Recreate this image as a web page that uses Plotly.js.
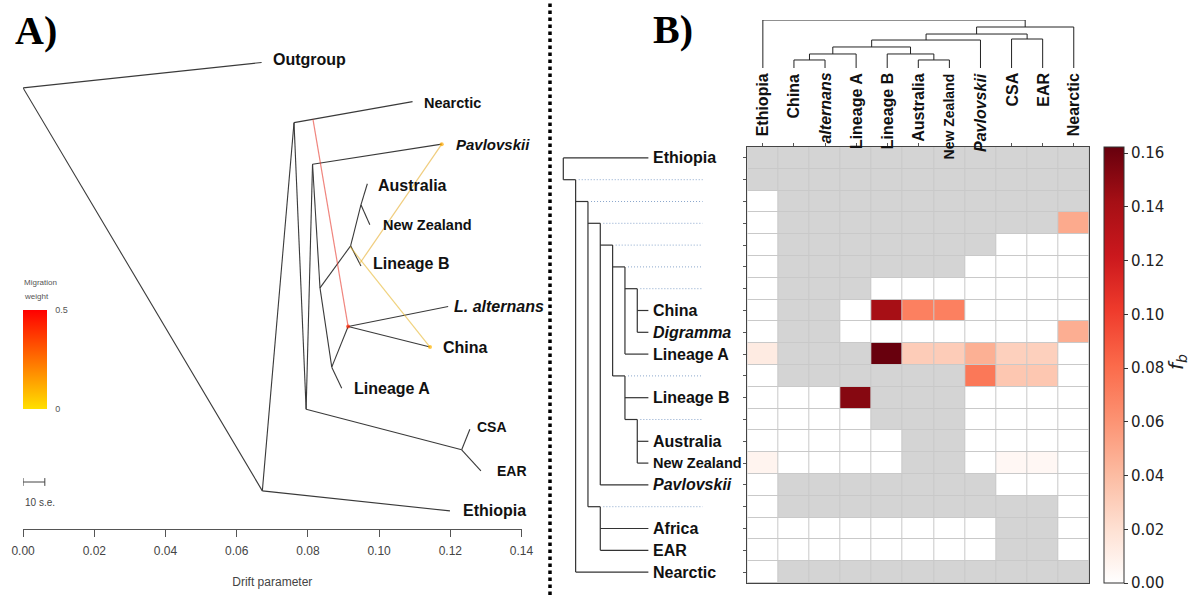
<!DOCTYPE html>
<html><head><meta charset="utf-8">
<script src="https://cdn.plot.ly/plotly-3.0.1.min.js"></script>
<style>html,body{margin:0;padding:0;background:#fff}#chart{width:1192px;height:595px}</style>
</head><body><div id="chart"></div>
<script>
// ================= Panel A : TreeMix tree =================
const nodeIds   = ['root','outgroup','ethN','ethiopia','n1','nearctic','n2','csaN','csa','ear','n3','pavlovskii','n4','n5','linB','ausN','australia','nz','n6','linA','n7','lalt','china'];
const nodeDrift = [0.0000,0.0670,0.0672,0.1199,0.0761,0.1094,0.0795,0.1232,0.1255,0.1286,0.0813,0.1176,0.0834,0.0920,0.0949,0.0949,0.0967,0.0974,0.0867,0.0895,0.0913,0.1194,0.1143];
const nodeVPos  = [0.902,0.954,0.078,0.037,0.831,0.874,0.245,0.162,0.204,0.119,0.746,0.787,0.493,0.579,0.538,0.663,0.706,0.622,0.331,0.288,0.414,0.455,0.372];
const edgeFrom  = ['root','root','ethN','ethN','n1','n1','n2','csaN','csaN','n2','n3','n3','n4','n5','n5','ausN','ausN','n4','n6','n6','n7','n7'];
const edgeTo    = ['outgroup','ethN','ethiopia','n1','nearctic','n2','csaN','csa','ear','n3','pavlovskii','n4','n5','linB','ausN','australia','nz','n6','linA','n7','lalt','china'];
const tipIds    = ['outgroup','nearctic','pavlovskii','australia','nz','linB','lalt','china','linA','csa','ear','ethiopia'];
const tipLabels = ['Outgroup','Nearctic','<i>Pavlovskii</i>','Australia','New Zealand','Lineage B','<i>L. alternans</i>','China','Lineage A','CSA','EAR','Ethiopia'];
// migration edges: source = point on the branch ending at migSrcChild, at fraction migSrcFrac
const migSrcChild = ['nearctic','linB','n5'];
const migSrcFrac  = [0.16, 0.88, 0.98];
const migDest     = ['n7','pavlovskii','china'];
const migWeight   = [0.42, 0.12, 0.10];
const seBar = 0.0061;           // 10 s.e. in drift units
const driftTicks = [0,0.02,0.04,0.06,0.08,0.10,0.12,0.14];

// ================= Panel B : f-branch heatmap =================
const colNames  = ['Ethiopia','China','<i>alternans</i>','Lineage A','Lineage B','Australia','New Zealand','<i>Pavlovskii</i>','CSA','EAR','Nearctic'];
const rowLabels = ['Ethiopia','','','','','','','China','<i>Digramma</i>','Lineage A','','Lineage B','','Australia','New Zealand','<i>Pavlovskii</i>','','Africa','EAR','Nearctic'];
const rowParent = [-1,-1,1,2,3,4,5,6,6,5,4,10,10,12,12,3,2,16,16,1];
const N = null;
const fbRows = [
 [N,N,N,N,N,N,N,N,N,N,N],
 [N,N,N,N,N,N,N,N,N,N,N],
 [0,N,N,N,N,N,N,N,N,N,N],
 [0,N,N,N,N,N,N,N,N,N,0.049],
 [0,N,N,N,N,N,N,N,0,0,0],
 [0,N,N,N,N,N,N,0,0,0,0],
 [0,N,N,N,0,0,0,0,0,0,0],
 [0,N,N,0,0.141,0.070,0.070,0,0,0,0],
 [0,N,N,0,0,0,0,0,0,0,0.047],
 [0.013,N,N,N,0.162,0.031,0.031,0.046,0.029,0.029,0],
 [0,N,N,N,N,N,N,0.074,0.034,0.034,0],
 [0,0,0,0.152,N,N,N,0,0,0,0],
 [0,0,0,0,N,N,N,0,0,0,0],
 [0,0,0,0,0,N,N,0,0,0,0],
 [0.007,0,0,0,0,N,N,0,0.005,0.005,0],
 [0,N,N,N,N,N,N,N,0,0,0],
 [0,N,N,N,N,N,N,N,N,N,0],
 [0,0,0,0,0,0,0,0,N,N,0],
 [0,0,0,0,0,0,0,0,N,N,0],
 [0,N,N,N,N,N,N,N,N,N,N]
];
// column dendrogram (scipy-like linkage; new cluster ids start at 11)
const linkLeft   = [1,5,11,4,13,8,15,17,18,0];
const linkRight  = [2,6,3,12,14,9,7,16,10,19];
const linkHeight = [0.167,0.167,0.292,0.292,0.438,0.604,0.583,0.708,0.854,1.0];
const fbTicks = [0,0.02,0.04,0.06,0.08,0.10,0.12,0.14,0.16];
const fbMax = 0.1623;

// ================= helpers =================
const W = 1192, H = 595;
const px = v => v / W, py = v => 1 - v / H;
const FONT = 'Liberation Sans, Arial, sans-serif';
const idx = {}; nodeIds.forEach((n,i)=>idx[n]=i);
const parentOf = {}; edgeTo.forEach((c,i)=>parentOf[c]=edgeFrom[i]);

const traces = [];
const annotations = [];
const shapes = [];

// tree edges
{
  const x=[], y=[];
  edgeFrom.forEach((f,i)=>{
    const a=idx[f], b=idx[edgeTo[i]];
    x.push(nodeDrift[a], nodeDrift[b], null);
    y.push(nodeVPos[a], nodeVPos[b], null);
  });
  traces.push({type:'scatter',mode:'lines',x,y,xaxis:'x',yaxis:'y',
    line:{color:'#3a3a3a',width:1.1},hoverinfo:'skip',showlegend:false});
}
// migration edges
function wColor(w){ // yellow -> red over 0..0.5
  const t=Math.min(1,w/0.5);
  const g=Math.round(200*(1-t)+20);
  return `rgb(230,${g},40)`;
}
const mx=[], my=[];
migSrcChild.forEach((c,i)=>{
  const p=parentOf[c], a=idx[p], b=idx[c], f=migSrcFrac[i];
  const sx=nodeDrift[a]+(nodeDrift[b]-nodeDrift[a])*f;
  const sy=nodeVPos[a]+(nodeVPos[b]-nodeVPos[a])*f;
  const d=idx[migDest[i]];
  traces.push({type:'scatter',mode:'lines',x:[sx,nodeDrift[d]],y:[sy,nodeVPos[d]],
    xaxis:'x',yaxis:'y',line:{color:wColor(migWeight[i]),width:1.2},opacity:0.6,
    hoverinfo:'skip',showlegend:false});
  mx.push(nodeDrift[d]); my.push(nodeVPos[d]);
});
traces.push({type:'scatter',mode:'markers',x:mx,y:my,xaxis:'x',yaxis:'y',hoverinfo:'skip',showlegend:false,
  marker:{size:4,color:migWeight,cmin:0,cmax:0.5,opacity:0.7,
    colorscale:[[0,'#ffe000'],[1,'#ff0000']],showscale:true,
    colorbar:{x:px(22.7),xanchor:'left',y:py(409),yanchor:'bottom',len:99/H,lenmode:'fraction',
      thickness:24,thicknessmode:'pixels',xpad:0,ypad:0,outlinewidth:0,
      tickvals:[0,0.5],ticktext:['0','0.5'],ticks:'outside',ticklen:7,tickcolor:'rgba(0,0,0,0)',
      tickfont:{family:FONT,size:9,color:'#555'}}}});
// scale bar
{
  const v=(529-482)/489, dv=0.008;
  traces.push({type:'scatter',mode:'lines',xaxis:'x',yaxis:'y',hoverinfo:'skip',showlegend:false,
    x:[0,seBar,null,0,0,null,seBar,seBar],y:[v,v,null,v-dv,v+dv,null,v-dv,v+dv],
    line:{color:'#444',width:1}});
  annotations.push({xref:'x',yref:'y',x:0,y:(529-502)/489,text:'10 s.e.',showarrow:false,
    xanchor:'left',yanchor:'middle',font:{family:FONT,size:10,color:'#444'}});
}
annotations.push({xref:'paper',yref:'paper',x:px(22),y:py(282),text:'Migration',showarrow:false,xanchor:'left',yanchor:'middle',font:{family:FONT,size:8,color:'#555'}});
annotations.push({xref:'paper',yref:'paper',x:px(22),y:py(296),text:'weight',showarrow:false,xanchor:'left',yanchor:'middle',font:{family:FONT,size:8,color:'#555'}});
// tip labels
const tipShift = {outgroup:[9,3],nearctic:[9,-1],pavlovskii:[12,0],australia:[9,-2],nz:[11,0],linB:[10,2],lalt:[4,0],china:[11,0],linA:[10,0],csa:[5,2],ear:[14,0],ethiopia:[11,0]};
const tipSize = {nearctic:14.5,nz:14.5,csa:14,ear:14,pavlovskii:15};
tipIds.forEach((t,i)=>{
  const k=idx[t];
  annotations.push({xref:'x',yref:'y',x:nodeDrift[k],y:nodeVPos[k],text:'<b>'+tipLabels[i]+'</b>',
    showarrow:false,xanchor:'left',yanchor:'middle',xshift:tipShift[t][0],yshift:tipShift[t][1],
    font:{family:FONT,size:tipSize[t]||16,color:'#111'}});
});

// ---- heatmap ----
const nR=rowLabels.length, nC=colNames.length;
const xs=[...Array(nC).keys()], ys=[...Array(nR).keys()];
const maskZ=fbRows.map(r=>r.map(v=>v===null?1:null));
shapes.push({type:'rect',xref:'x2 domain',yref:'y2 domain',x0:0,x1:1,y0:0,y1:1,fillcolor:'#c9c9c9',line:{width:0},layer:'below'});
traces.push({type:'heatmap',x:xs,y:ys,z:maskZ,xaxis:'x2',yaxis:'y2',zmin:0,zmax:1,
  colorscale:[[0,'#d4d4d4'],[1,'#d4d4d4']],showscale:false,xgap:1,ygap:1,hoverinfo:'skip'});
traces.push({type:'heatmap',x:xs,y:ys,z:fbRows,xaxis:'x2',yaxis:'y2',zmin:0,zmax:fbMax,xgap:1,ygap:1,
  hoverongaps:false,
  colorscale:[[0,'#ffffff'],[0.125,'#fee0d2'],[0.25,'#fcbba1'],[0.375,'#fc9272'],[0.5,'#fb6a4a'],
              [0.625,'#ef3b2c'],[0.75,'#cb181d'],[0.875,'#a50f15'],[1,'#67000d']],
  colorbar:{x:px(1104),xanchor:'left',y:py(583),yanchor:'bottom',len:436/H,lenmode:'fraction',
    thickness:20,thicknessmode:'pixels',xpad:0,ypad:0,outlinewidth:1,outlinecolor:'#333',
    ticks:'outside',ticklen:4,tickcolor:'#333',tickvals:fbTicks,tickformat:'.2f',
    tickfont:{family:'DejaVu Sans, sans-serif',size:15,color:'#222'}}});
annotations.push({xref:'paper',yref:'paper',x:px(1162),y:py(362),textangle:-90,showarrow:false,
  xanchor:'left',yanchor:'middle',
  text:'<i>f</i><sub><i>b</i></sub>',font:{family:'DejaVu Sans, sans-serif',size:20,color:'#222'}});

// column labels
colNames.forEach((c,i)=>{
  annotations.push({xref:'x2',yref:'paper',x:i,y:py(71),text:'<b>'+c+'</b>',textangle:-90,showarrow:false,
    xanchor:'center',yanchor:'top',font:{family:FONT,size:c==='New Zealand'?14:16,color:'#111'}});
});

// column dendrogram
{
  const pos=xs.slice(), hgt=xs.map(()=>0);
  const x=[], y=[];
  linkLeft.forEach((l,k)=>{
    const r=linkRight[k], h=linkHeight[k];
    x.push(pos[l],pos[l],pos[r],pos[r],null);
    y.push(hgt[l],h,h,hgt[r],null);
    pos.push((pos[l]+pos[r])/2); hgt.push(h);
  });
  traces.push({type:'scatter',mode:'lines',x,y,xaxis:'x2',yaxis:'y3',line:{color:'#222',width:1},hoverinfo:'skip',showlegend:false});
}

// row dendrogram
{
  const depth=[]; 
  const getDepth=r=>{ if(depth[r]!==undefined) return depth[r]; const p=rowParent[r]; depth[r]=(p<0?0:getDepth(p))+1; return depth[r]; };
  ys.forEach(getDepth);
  const isInternal=ys.map(r=>rowParent.includes(r));
  const leafEnd=6.9, dotEnd=11.3;
  const x=[], y=[], dx=[], dy=[];
  ys.forEach(r=>{
    const p=rowParent[r], pd=p<0?0:depth[p];
    if(isInternal[r]){
      x.push(pd,depth[r],null); y.push(r,r,null);
      dx.push(depth[r]+0.25,dotEnd,null); dy.push(r,r,null);
      const kids=ys.filter(k=>rowParent[k]===r);
      x.push(depth[r],depth[r],null); y.push(r,Math.max(...kids),null);
    } else {
      x.push(pd,leafEnd,null); y.push(r,r,null);
      annotations.push({xref:'x4',yref:'y2',x:leafEnd,y:r,text:'<b>'+rowLabels[r]+'</b>',showarrow:false,
        xanchor:'left',yanchor:'middle',xshift:3,font:{family:FONT,size:rowLabels[r]==='New Zealand'?14.5:16,color:'#111'}});
    }
  });
  const rootKids=ys.filter(k=>rowParent[k]<0);
  x.push(0,0,null); y.push(Math.min(...rootKids),Math.max(...rootKids),null);
  traces.push({type:'scatter',mode:'lines',x,y,xaxis:'x4',yaxis:'y2',line:{color:'#333',width:1.2},hoverinfo:'skip',showlegend:false});
  traces.push({type:'scatter',mode:'lines',x:dx,y:dy,xaxis:'x4',yaxis:'y2',line:{color:'#8aa6cc',width:1,dash:'1px,2px'},hoverinfo:'skip',showlegend:false});
}

// panel letters & separator
annotations.push({xref:'paper',yref:'paper',x:px(13),y:py(30),text:'<b>A)</b>',showarrow:false,xanchor:'left',yanchor:'middle',font:{family:'Liberation Serif, Times New Roman, serif',size:40,color:'#000'}});
annotations.push({xref:'paper',yref:'paper',x:px(651),y:py(29),text:'<b>B)</b>',showarrow:false,xanchor:'left',yanchor:'middle',font:{family:'Liberation Serif, Times New Roman, serif',size:40,color:'#000'}});
shapes.push({type:'line',xref:'paper',yref:'paper',x0:px(550),x1:px(550),y0:0,y1:1,line:{color:'#000',width:3.5,dash:'dot'}});

const layout = {
  width:W,height:H,margin:{l:0,r:0,t:0,b:0},paper_bgcolor:'#fff',plot_bgcolor:'rgba(0,0,0,0)',
  showlegend:false,
  xaxis:{domain:[px(23.1),px(521.5)],range:[0,0.14],anchor:'y',showline:true,linecolor:'#555',linewidth:1,
    ticks:'outside',ticklen:7,tickcolor:'#555',tickvals:driftTicks,tickformat:'.2f',ticklabelstandoff:4,
    tickfont:{family:FONT,size:12,color:'#444'},showgrid:false,zeroline:false,
    title:{text:'Drift parameter',font:{family:FONT,size:12,color:'#444'},standoff:20}},
  yaxis:{domain:[py(529),py(40)],range:[0,1],anchor:'x',visible:false},
  xaxis2:{domain:[px(747.3),px(1089.3)],range:[-0.5,10.5],anchor:'y2',side:'top',ticks:'outside',ticklen:3,
    tickcolor:'#555',tickvals:xs,showticklabels:false,showline:true,mirror:true,linecolor:'#444',linewidth:1,
    showgrid:false,zeroline:false},
  yaxis2:{domain:[py(583),py(147)],range:[nR-0.5,-0.5],anchor:'x2',ticks:'outside',ticklen:3,tickcolor:'#555',
    tickvals:ys,showticklabels:false,showline:true,mirror:true,linecolor:'#444',linewidth:1,showgrid:false,zeroline:false},
  yaxis3:{domain:[py(68),py(20)],range:[0,1],anchor:'x2',visible:false},
  xaxis4:{domain:[px(555),px(745)],range:[-0.673,14.736],anchor:'y2',visible:false},
  annotations, shapes
};
Plotly.newPlot('chart',traces,layout,{staticPlot:true,displayModeBar:false});
</script></body></html>
